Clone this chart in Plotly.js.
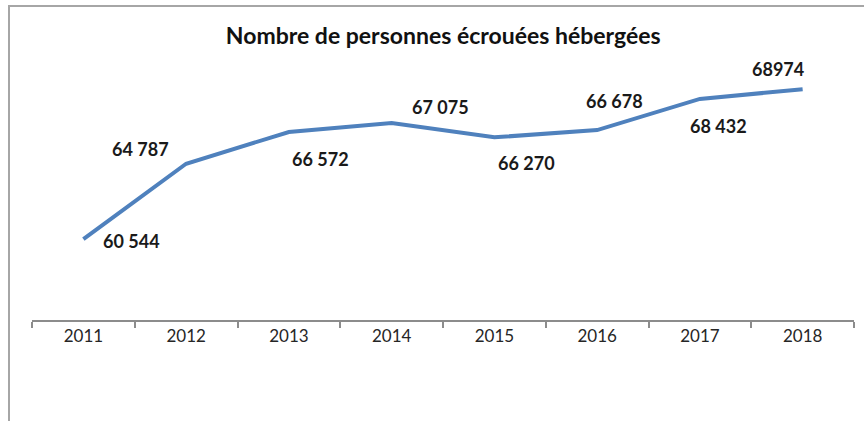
<!DOCTYPE html>
<html>
<head>
<meta charset="utf-8">
<script src="https://cdn.plot.ly/plotly-3.0.1.min.js"></script>
<style>
  html, body { margin: 0; padding: 0; background: #fff; }
  #wrap { position: relative; width: 864px; height: 421px; overflow: hidden; }
  #chart { position: absolute; left: 0; top: 0; width: 864px; height: 421px; }
  #frame { position: absolute; left: 8px; top: 5px; width: 870px; height: 430px;
           border-left: 2px solid #a6a6a6; border-top: 2px solid #a6a6a6; pointer-events: none; }
</style>
</head>
<body>
<div id="wrap">
  <div id="chart"></div>
  <div id="frame"></div>
</div>
<script>
const years = ['2011', '2012', '2013', '2014', '2015', '2016', '2017', '2018'];
const detainees = [60544, 64787, 66572, 67075, 66270, 66678, 68432, 68974];
const valueLabels = ['60 544', '64 787', '66 572', '67 075', '66 270', '66 678', '68 432', '68974'];

// label placement offsets (pixels) relative to each point
const labelDx = [48, -46, 32, 49, 32, 17, 19, -25];
const labelDy = [-2, 15, -27, 16, -26, 29, -27, 20];

const annotations = years.map((y, i) => ({
  x: i, y: detainees[i], xref: 'x', yref: 'y',
  text: '<b>' + valueLabels[i] + '</b>',
  showarrow: false, xshift: labelDx[i], yshift: labelDy[i],
  xanchor: 'center', yanchor: 'middle',
  font: { family: 'Lato, "Open Sans", sans-serif', size: 18, color: '#1a1a1a' }
}));

const trace = {
  type: 'scatter', mode: 'lines',
  x: years, y: detainees,
  line: { color: '#4f81bd', width: 4 },
  hoverinfo: 'skip'
};

const layout = {
  width: 864, height: 421,
  margin: { l: 32, r: 10, t: 71, b: 101 },
  paper_bgcolor: '#ffffff', plot_bgcolor: '#ffffff',
  showlegend: false,
  title: {
    text: '<b>Nombre de personnes écrouées hébergées</b>',
    font: { family: 'Lato, "Open Sans", sans-serif', size: 23, color: '#111' },
    x: 0.513, xanchor: 'center', xref: 'container',
    y: 1 - 36 / 421, yanchor: 'middle', yref: 'container'
  },
  xaxis: {
    type: 'category', tickson: 'boundaries',
    showline: true, linecolor: '#8c8c8c', linewidth: 2,
    ticks: 'outside', ticklen: 6, tickcolor: '#8c8c8c', tickwidth: 2,
    showgrid: false, zeroline: false,
    tickfont: { family: 'Lato, "Open Sans", sans-serif', size: 17, color: '#262626' },
    range: [-0.5, 7.5], fixedrange: true
  },
  yaxis: {
    range: [56000, 70000], visible: false, showgrid: false, zeroline: false, fixedrange: true
  },
  annotations: annotations
};

Plotly.newPlot('chart', [trace], layout, { displayModeBar: false, staticPlot: true });
</script>
</body>
</html>
